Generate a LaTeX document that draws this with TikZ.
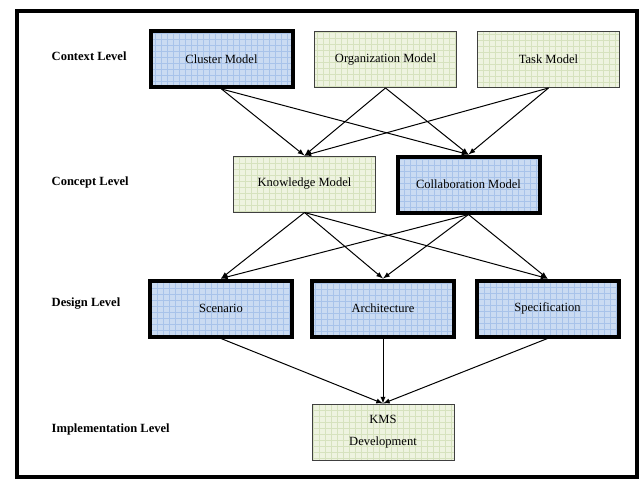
\documentclass[tikz,border=0pt]{standalone}
\usepackage{fontspec}
\setmainfont{Liberation Serif}
\usepackage{tikz}
\definecolor{bluefill}{HTML}{CADBF2}
\definecolor{bluegrid}{HTML}{A8C3EA}
\definecolor{greenfill}{HTML}{EEF3E0}
\definecolor{greengrid}{HTML}{D6E2BE}
\tikzset{
  box/.style={rectangle, minimum width=106.5pt, minimum height=42pt, align=center,
    font=\fontsize{9.4}{16.5}\selectfont},
  bluebox/.style={box, fill=bluefill, draw=black, line width=3pt,
    path picture={\draw[bluegrid, line width=0.4pt, step=4.5pt]
      (path picture bounding box.south west) grid (path picture bounding box.north east);}},
  greenbox/.style={box, fill=greenfill, draw=black!75, line width=0.75pt,
    path picture={\draw[greengrid, line width=0.4pt, step=4.5pt]
      (path picture bounding box.south west) grid (path picture bounding box.north east);}},
  levellabel/.style={anchor=west, font=\fontsize{9.4}{11}\selectfont\bfseries}
}

\begin{document}
\begin{tikzpicture}[>=latex, x=0.75pt, y=-0.75pt]

    \useasboundingbox (0,0) rectangle (644,479);
    \draw[line width=3pt] (16.5,11) rectangle (637,477);

    \draw(47,56) node[levellabel] (L1) {Context Level};
    \draw(47,182) node[levellabel] (L2) {Concept Level};
    \draw(47,304) node[levellabel] (L3) {Design Level};
    \draw(47,429) node[levellabel] (L4) {Implementation Level};

    \draw(221.5,59) node[bluebox] (CM) {Cluster Model};
    \draw(385.5,59.5) node[greenbox] (OM) {Organization Model};
    \draw(548.5,59.5) node[greenbox] (TM) {Task Model};

    \draw(304.5,184) node[greenbox] (KM) {Knowledge Model};
    \draw(468.5,184.5) node[bluebox] (CoM) {Collaboration Model};

    \draw(221,308.5) node[bluebox] (Sc) {Scenario};
    \draw(383,308.5) node[bluebox] (Ar) {Architecture};
    \draw(547.5,308.5) node[bluebox] (Sp) {Specification};

    \draw(383,432) node[greenbox] (KMS) {KMS\\Development};

    \draw[->, line width=0.75pt] (CM.south) to (KM.north);
    \draw[->, line width=0.75pt] (CM.south) to (CoM.north);
    \draw[->, line width=0.75pt] (OM.south) to (KM.north);
    \draw[->, line width=0.75pt] (OM.south) to (CoM.north);
    \draw[->, line width=0.75pt] (TM.south) to (KM.north);
    \draw[->, line width=0.75pt] (TM.south) to (CoM.north);

    \draw[->, line width=0.75pt] (KM.south) to (Sc.north);
    \draw[->, line width=0.75pt] (KM.south) to (Ar.north);
    \draw[->, line width=0.75pt] (KM.south) to (Sp.north);
    \draw[->, line width=0.75pt] (CoM.south) to (Sc.north);
    \draw[->, line width=0.75pt] (CoM.south) to (Ar.north);
    \draw[->, line width=0.75pt] (CoM.south) to (Sp.north);

    \draw[->, line width=0.75pt] (Sc.south) to (KMS.north);
    \draw[->, line width=0.75pt] (Ar.south) to (KMS.north);
    \draw[->, line width=0.75pt] (Sp.south) to (KMS.north);

    \end{tikzpicture}
\end{document}
